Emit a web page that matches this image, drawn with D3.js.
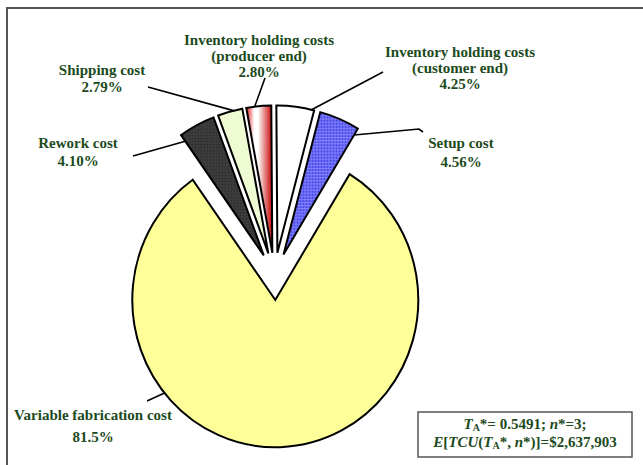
<!DOCTYPE html>
<html>
<head>
<meta charset="utf-8">
<script src="https://cdn.jsdelivr.net/npm/d3@7"></script>
<style>
  body { margin: 0; background: #fff; }
  svg text { font-family: "Liberation Serif", "Times New Roman", serif; font-weight: bold; }
</style>
</head>
<body>
<div id="chart"></div>
<script>
// cost components, clockwise from the big slice
var categories = ["Variable fabrication cost", "Rework cost", "Shipping cost",
  "Inventory holding costs (producer end)", "Inventory holding costs (customer end)", "Setup cost"];
var shares = [81.5, 4.10, 2.79, 2.80, 4.25, 4.56];
var shareLabels = ["81.5%", "4.10%", "2.79%", "2.80%", "4.25%", "4.56%"];
var optT = "0.5491";
var optN = "3";
var optCost = "$2,637,903";

var width = 643, height = 465;
var cx = 274.5, cy = 276.3, sy = 1.03, radius = 143, explode = 23;
var textColor = "#1c4a1c";

var fills = ["#ffff99", "url(#rework)", "#effcd3", "url(#redgrad)", "#ffffff", "url(#bluegrid)"];

// label placement: text x / first baseline / line gap, leader points, where leader meets slice
var labelPos = [
  {x: 93,  y: 420, gap: 22, pts: [[147, 401]], t: 0.68, rf: 1},
  {x: 78,  y: 148, gap: 18, pts: [[133, 156]], t: 0.0, rf: 0.95},
  {x: 102, y: 75,  gap: 17, pts: [[148, 87]], t: 0.64, rf: 1},
  {x: 259, y: 45,  gap: 16, pts: [[265, 78]], t: 0.34, rf: 1},
  {x: 460, y: 57,  gap: 16, pts: [[383, 72]], t: 0.93, rf: 1},
  {x: 461, y: 148, gap: 19, pts: [[423, 132], [419, 129]], t: 1.0, rf: 0.95}
];

var svg = d3.select("#chart")
  .append("svg")
    .attr("width", width)
    .attr("height", height);

var defs = svg.append("defs");

var rw = defs.append("pattern")
  .attr("id", "rework")
  .attr("patternUnits", "userSpaceOnUse")
  .attr("width", 3).attr("height", 3);
rw.append("rect").attr("width", 3).attr("height", 3).attr("fill", "#3c3c3c");
rw.append("rect").attr("width", 1).attr("height", 1).attr("fill", "#1e1e1e");

var bg = defs.append("pattern")
  .attr("id", "bluegrid")
  .attr("patternUnits", "userSpaceOnUse")
  .attr("width", 3).attr("height", 3);
bg.append("rect").attr("width", 3).attr("height", 3).attr("fill", "#4646e6");
bg.append("rect").attr("width", 3).attr("height", 1).attr("fill", "#8484ff");
bg.append("rect").attr("width", 1).attr("height", 3).attr("fill", "#8484ff");

var rg = defs.append("linearGradient")
  .attr("id", "redgrad")
  .attr("x1", "0").attr("x2", "1").attr("y1", "0").attr("y2", "0");
rg.append("stop").attr("offset", "0%").style("stop-color", "#dd1515");
rg.append("stop").attr("offset", "30%").style("stop-color", "#ffffff");
rg.append("stop").attr("offset", "45%").style("stop-color", "#ffffff");
rg.append("stop").attr("offset", "100%").style("stop-color", "#c80000");

// outer frame
svg.append("rect")
  .attr("x", 7).attr("y", 8)
  .attr("width", 660).attr("height", 480)
  .attr("fill", "none")
  .attr("stroke", "#555")
  .attr("stroke-width", 2);

var a0 = Math.PI * (1 - shares[0] / 100) - 2 * Math.PI / 180;
var pie = d3.pie().sort(null).value(function(d) { return d; })
  .startAngle(a0).endAngle(a0 + 2 * Math.PI);
var arcs = pie(shares);

var arc = d3.arc().innerRadius(0).outerRadius(radius);

function offset(d) {
  var m = (d.startAngle + d.endAngle) / 2;
  return [explode * Math.sin(m), -explode * Math.cos(m)];
}

var g = svg.append("g")
  .attr("transform", "translate(" + cx + "," + cy + ") scale(1," + sy + ")");

g.selectAll("path")
  .data(arcs)
  .enter().append("path")
    .attr("d", arc)
    .attr("transform", function(d) { var o = offset(d); return "translate(" + o[0] + "," + o[1] + ")"; })
    .attr("fill", function(d, i) { return fills[i]; })
    .attr("stroke", "#000")
    .attr("stroke-width", 2)
    .attr("stroke-linejoin", "miter")
    .attr("vector-effect", "non-scaling-stroke");

// leader lines
var line = d3.line();
arcs.forEach(function(d, i) {
  var p = labelPos[i], o = offset(d);
  var a = d.startAngle + p.t * (d.endAngle - d.startAngle);
  var r = radius * p.rf;
  var end = [cx + o[0] + r * Math.sin(a), cy + sy * (o[1] - r * Math.cos(a))];
  svg.append("path")
    .attr("d", line(p.pts.concat([end])))
    .attr("fill", "none")
    .attr("stroke", "#000")
    .attr("stroke-width", 1.6);
});

// labels
categories.forEach(function(name, i) {
  var p = labelPos[i];
  var k = name.indexOf(" (");
  var lines = k > 0 ? [name.slice(0, k), name.slice(k + 1)] : [name];
  lines.push(shareLabels[i]);
  var t = svg.append("text")
    .attr("text-anchor", "middle")
    .attr("font-size", 15)
    .attr("fill", textColor);
  lines.forEach(function(s, j) {
    t.append("tspan")
      .attr("x", p.x)
      .attr("y", p.y + j * p.gap)
      .text(s);
  });
});

// result box
svg.append("rect")
  .attr("x", 418).attr("y", 412)
  .attr("width", 214).attr("height", 45)
  .attr("fill", "#fff")
  .attr("stroke", "#555")
  .attr("stroke-width", 1.5);

function addParts(y, parts) {
  var t = svg.append("text")
    .attr("x", 525).attr("y", y)
    .attr("text-anchor", "middle")
    .attr("font-size", 15)
    .attr("fill", textColor);
  parts.forEach(function(p) {
    var s = t.append("tspan").text(p[0]);
    if (p[1] === "i") s.attr("font-style", "italic");
    if (p[1] === "sub") s.attr("font-size", 10).attr("dy", 2);
    if (p[2]) s.attr("dy", p[2]);
  });
}
addParts(429, [["T", "i"], ["A", "sub"], ["*= " + optT + "; ", "", -2], ["n", "i"], ["*=" + optN + ";"]]);
addParts(447, [["E", "i"], ["["], ["TCU", "i"], ["("], ["T", "i"], ["A", "sub"],
  ["*, ", "", -2], ["n", "i"], ["*)]=" + optCost]]);
</script>
</body>
</html>
